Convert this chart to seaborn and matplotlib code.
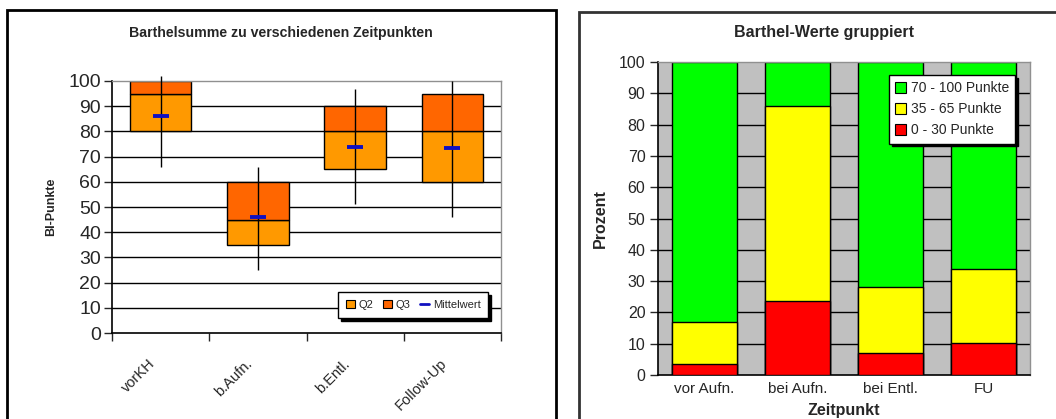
import pandas as pd
import matplotlib.pyplot as plt
import seaborn as sns
from matplotlib.patches import Rectangle, Patch
from matplotlib.lines import Line2D
from matplotlib.transforms import ScaledTranslation

# Daten links: Barthelsumme (Quartile, Mittelwert, Spannweite)
zeitpunkte_links = ["vorKH", "b.Aufn.", "b.Entl.", "Follow-Up"]
q1 = [80, 35, 65, 60]
median = [95, 45, 80, 80]
q3 = [100, 60, 90, 95]
mittelwert = [86, 46, 74, 73.5]
whisker_lo = [66, 25, 51, 46]
whisker_hi = [102, 66, 97, 100]

# Daten rechts: Barthel-Werte gruppiert (Prozent)
zeitpunkte_rechts = ["vor Aufn.", "bei Aufn.", "bei Entl.", "FU"]
p_0_30 = [3.5, 23.5, 7, 10.3]
p_35_65 = [13.5, 62.5, 21, 23.7]
p_70_100 = [83, 14, 72, 66]

sns.set_theme(style="white")
plt.rcParams['font.family'] = ['Liberation Sans', 'DejaVu Sans']

fig = plt.figure(figsize=(10.56, 4.19), dpi=100)

# Rahmen der beiden Diagramme
fig.patches.append(Rectangle((7 / 1056, -0.05), 549 / 1056, 1 - 10 / 419 + 0.05,
                             transform=fig.transFigure, fill=False, ec="black", lw=2))
fig.patches.append(Rectangle((579 / 1056, -0.05), 0.5, 1 - 12 / 419 + 0.05,
                             transform=fig.transFigure, fill=False, ec="#333333", lw=2))

# ---------------- linkes Diagramm ----------------
ax1 = fig.add_axes([112 / 1056, 1 - 333 / 419, 389 / 1056, 252 / 419])
df1 = pd.DataFrame({"Zeitpunkt": zeitpunkte_links, "q1": q1, "med": median, "q3": q3,
                    "mw": mittelwert})
df1["h_q2"] = df1["med"] - df1["q1"]
df1["h_q3"] = df1["q3"] - df1["med"]

for y in range(10, 100, 10):
    ax1.axhline(y, color="black", lw=1, zorder=0)

sns.barplot(data=df1, x="Zeitpunkt", y="h_q2", bottom=df1["q1"].values, color="#FF9900",
            edgecolor="black", linewidth=1, width=0.63, saturation=1, ax=ax1, zorder=2)
sns.barplot(data=df1, x="Zeitpunkt", y="h_q3", bottom=df1["med"].values, color="#FF6600",
            edgecolor="black", linewidth=1, width=0.63, saturation=1, ax=ax1, zorder=2)
ax1.vlines(range(len(zeitpunkte_links)), whisker_lo, whisker_hi, color="black", lw=1,
           zorder=3, clip_on=False)
sns.scatterplot(data=df1, x="Zeitpunkt", y="mw", marker="_", s=120, linewidth=2.8,
                color="#1010C0", ax=ax1, zorder=4)

ax1.set_ylim(0, 100)
ax1.set_xlim(-0.5, 3.5)
ax1.set_yticks(range(0, 101, 10))
ax1.tick_params(axis="y", labelsize=14, length=6, width=1, direction="out", left=True, pad=2)
ax1.set_xticks([-0.5, 0.5, 1.5, 2.5, 3.5])
ax1.set_xticklabels([])
ax1.set_xticks(range(4), minor=True)
ax1.set_xticklabels(zeitpunkte_links, minor=True, rotation=45, ha="right",
                    rotation_mode="anchor", fontsize=10.5)
ax1.tick_params(axis="x", which="major", length=6, width=1, direction="out", bottom=True)
ax1.tick_params(axis="x", which="minor", length=0, pad=17)
shift = ScaledTranslation(-13 / 100, 0, fig.dpi_scale_trans)
for lab in ax1.get_xticklabels(minor=True):
    lab.set_transform(lab.get_transform() + shift)
ax1.set_xlabel("")
ax1.set_ylabel("BI-Punkte", fontsize=9, fontweight="bold")
ax1.yaxis.set_label_coords(-0.141, 0.5)
for s in ["left", "bottom"]:
    ax1.spines[s].set_color("black")
    ax1.spines[s].set_linewidth(1.2)
for s in ["top", "right"]:
    ax1.spines[s].set_color("#909090")
    ax1.spines[s].set_linewidth(1)
fig.text(281 / 1056, 1 - 33 / 419, "Barthelsumme zu verschiedenen Zeitpunkten",
         ha="center", va="center", fontsize=10.2, fontweight="bold")

handles1 = [Patch(facecolor="#FF9900", edgecolor="black", lw=0.8, label="Q2"),
            Patch(facecolor="#FF6600", edgecolor="black", lw=0.8, label="Q3"),
            Line2D([], [], color="#1010C0", lw=2, label="Mittelwert")]
ax1.legend(handles=handles1, loc="lower right", bbox_to_anchor=(0.967, 0.06), ncol=3,
           fontsize=8, frameon=True, fancybox=False, edgecolor="black",
           shadow={"color": "black", "alpha": 1}, handlelength=0.8, handleheight=0.8,
           handletextpad=0.3, columnspacing=0.9, borderpad=0.7, borderaxespad=0,
           framealpha=1)

# ---------------- rechtes Diagramm ----------------
ax2 = fig.add_axes([658 / 1056, 1 - 375 / 419, 372 / 1056, 313 / 419])
df2 = pd.DataFrame({"Zeitpunkt": zeitpunkte_rechts, "rot": p_0_30, "gelb": p_35_65,
                    "gruen": p_70_100})
df2["cum_gelb"] = df2["rot"] + df2["gelb"]
df2["cum_gruen"] = df2["cum_gelb"] + df2["gruen"]

ax2.set_facecolor("#C0C0C0")
for y in range(10, 100, 10):
    ax2.axhline(y, color="black", lw=1, zorder=0)

sns.barplot(data=df2, x="Zeitpunkt", y="cum_gruen", color="#00FF00", edgecolor="black",
            linewidth=1, width=0.7, saturation=1, ax=ax2, zorder=2)
sns.barplot(data=df2, x="Zeitpunkt", y="cum_gelb", color="#FFFF00", edgecolor="black",
            linewidth=1, width=0.7, saturation=1, ax=ax2, zorder=3)
sns.barplot(data=df2, x="Zeitpunkt", y="rot", color="#FF0000", edgecolor="black",
            linewidth=1, width=0.7, saturation=1, ax=ax2, zorder=4)

ax2.set_ylim(0, 100)
ax2.set_xlim(-0.5, 3.5)
ax2.set_yticks(range(0, 101, 10))
ax2.tick_params(axis="y", labelsize=11.5, length=6, width=1, direction="out", left=True, pad=3)
ax2.tick_params(axis="x", labelsize=11, length=0, pad=5)
ax2.set_xlabel("Zeitpunkt", fontsize=11.5, fontweight="bold")
ax2.xaxis.set_label_coords(0.5, -0.115)
ax2.xaxis.label.set_va("center")
ax2.set_ylabel("Prozent", fontsize=11.5, fontweight="bold")
ax2.yaxis.set_label_coords(-0.134, 0.5)
for s in ["left", "bottom"]:
    ax2.spines[s].set_color("black")
    ax2.spines[s].set_linewidth(1.2)
for s in ["top", "right"]:
    ax2.spines[s].set_color("#909090")
    ax2.spines[s].set_linewidth(1)
fig.text(824 / 1056, 1 - 33 / 419, "Barthel-Werte gruppiert",
         ha="center", va="center", fontsize=11.5, fontweight="bold")

handles2 = [Patch(facecolor="#00FF00", edgecolor="black", lw=0.8, label="70 - 100 Punkte"),
            Patch(facecolor="#FFFF00", edgecolor="black", lw=0.8, label="35 - 65 Punkte"),
            Patch(facecolor="#FF0000", edgecolor="black", lw=0.8, label="0 - 30 Punkte")]
leg2 = ax2.legend(handles=handles2, loc="upper right", bbox_to_anchor=(0.96, 0.958),
                  fontsize=10, frameon=True, fancybox=False, edgecolor="black",
                  shadow={"color": "black", "alpha": 1}, handlelength=0.8, handleheight=0.8,
                  handletextpad=0.3, labelspacing=0.5, borderpad=0.45, borderaxespad=0,
                  framealpha=1)
leg2.set_zorder(10)

fig.savefig("out.png", dpi=100)
